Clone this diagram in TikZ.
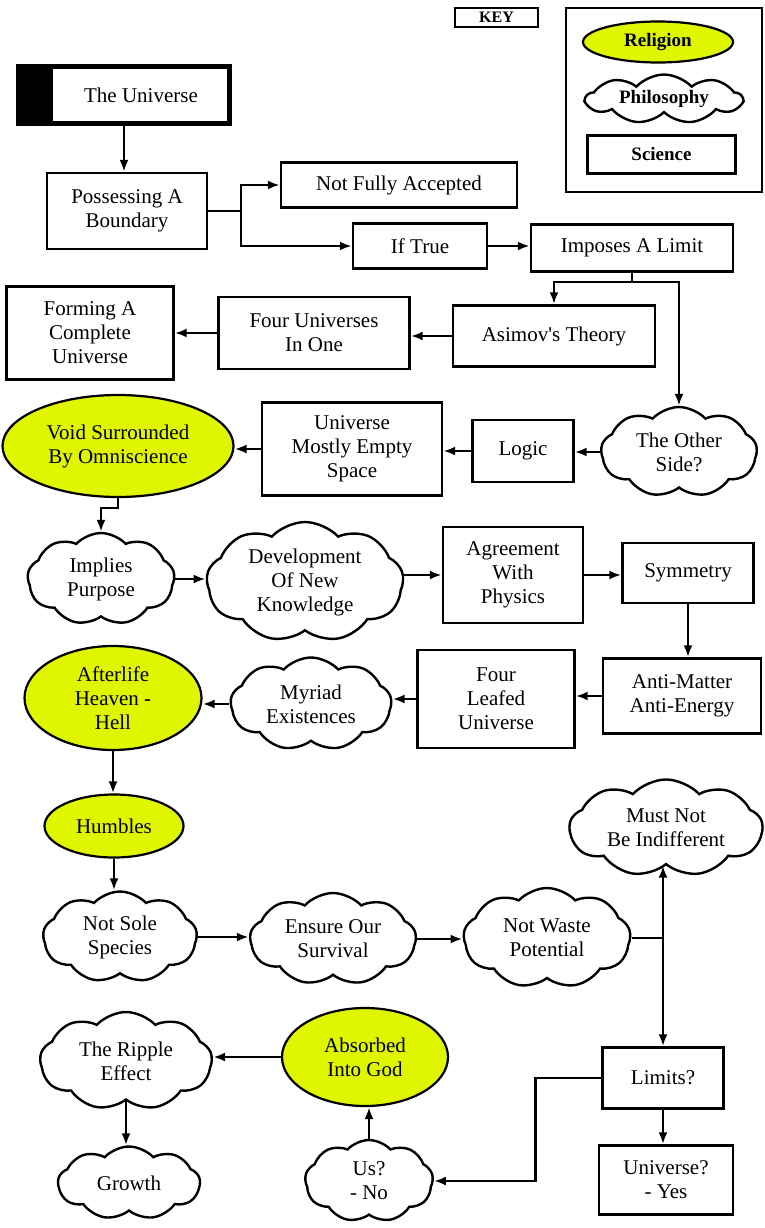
\documentclass[tikz,border=0pt]{standalone}
\usepackage{fontspec}
\setmainfont{Liberation Serif}
\usetikzlibrary{shapes.geometric,shapes.symbols,arrows.meta}
\definecolor{religion}{RGB}{224,245,0}

\begin{document}
\begin{tikzpicture}[x=1pt,y=-1pt,
		every node/.style={font=\fontsize{21}{24}\selectfont,align=center},
		sci/.style={draw,line width=2.4pt,rectangle,inner sep=1pt},
		rel/.style={draw,line width=2.2pt,ellipse,fill=religion,inner sep=0pt},
		phil/.style={draw,line width=2.4pt,cloud,cloud puffs=9,cloud puff arc=95,cloud ignores aspect,inner sep=0pt},
		keyfont/.style={font=\bfseries\fontsize{19}{22}\selectfont},
		arr/.style={line width=2.4pt,-{Latex[length=12pt,width=9pt]}},
		ln/.style={line width=2.4pt}]
		\useasboundingbox (0,0) rectangle (764,1228);

		\node[sci,line width=1.4pt,minimum width=83,minimum height=19,inner sep=0pt,font=\bfseries\fontsize{16}{18}\selectfont] (keylbl) at (496.5,17.5) {KEY};
		\draw[line width=1.4pt] (566,8) rectangle (762,192);
		\node[rel,keyfont,minimum width=150,minimum height=41] (krel) at (658,42) {Religion};
		\node[phil,keyfont,minimum width=156,minimum height=49] (kphil) at (664,99) {Philosophy};
		\node[sci,keyfont,minimum width=148,minimum height=38] (ksci) at (661.5,154.5) {Science};

		\node[draw,line width=5pt,minimum width=211,minimum height=57,
			path picture={\fill (path picture bounding box.north west) rectangle ([xshift=34pt]path picture bounding box.south west);}]
			(uni) at (124,95) {\hspace*{34pt}The Universe};
		\node[sci,minimum width=160,minimum height=76] (pos) at (127,211) {Possessing A\\Boundary};
		\node[sci,minimum width=236,minimum height=45] (nfa) at (399,185) {Not Fully Accepted};
		\node[sci,minimum width=134,minimum height=45] (ift) at (420,246) {If True};
		\node[sci,minimum width=202,minimum height=47] (imp) at (632,248) {Imposes A Limit};
		\node[sci,minimum width=202,minimum height=61] (asi) at (554,336) {Asimov\textquotesingle s Theory};
		\node[sci,minimum width=191,minimum height=72] (fou) at (314,333) {Four Universes\\In One};
		\node[sci,minimum width=167,minimum height=93] (frm) at (90,333) {Forming A\\Complete\\Universe};
		\node[phil,minimum width=156,minimum height=90] (oth) at (679,452) {The Other\\Side?};
		\node[sci,minimum width=101,minimum height=62] (lgc) at (523,451) {Logic};
		\node[sci,minimum width=180,minimum height=93] (emp) at (352,449) {Universe\\Mostly Empty\\Space};
		\node[rel,minimum width=231,minimum height=102] (void) at (118,446) {Void Surrounded\\By Omniscience};
		\node[phil,minimum width=147,minimum height=92] (ipl) at (101,579) {Implies\\Purpose};
		\node[phil,minimum width=197,minimum height=120] (dev) at (305,582) {Development\\Of New\\Knowledge};
		\node[sci,minimum width=140,minimum height=96] (agr) at (513,575) {Agreement\\With\\Physics};
		\node[sci,minimum width=131,minimum height=60] (sym) at (688,573) {Symmetry};
		\node[sci,minimum width=158,minimum height=75] (anti) at (682,696) {Anti-Matter\\Anti-Energy};
		\node[sci,minimum width=157,minimum height=98] (flu) at (496,699) {Four\\Leafed\\Universe};
		\node[phil,minimum width=161,minimum height=93] (myr) at (311,704) {Myriad\\Existences};
		\node[rel,minimum width=177,minimum height=104] (aft) at (113,698) {Afterlife\\Heaven -\\Hell};
		\node[rel,minimum width=139,minimum height=63] (hum) at (114,826) {Humbles};
		\node[phil,minimum width=154,minimum height=91] (nss) at (120,937) {Not Sole\\Species};
		\node[phil,minimum width=166,minimum height=92] (eos) at (333,939) {Ensure Our\\Survival};
		\node[phil,minimum width=167,minimum height=100] (nwp) at (547,938) {Not Waste\\Potential};
		\node[phil,minimum width=193,minimum height=97] (mni) at (666,828) {Must Not\\Be Indifferent};
		\node[sci,minimum width=121,minimum height=61] (lim) at (663,1078) {Limits?};
		\node[sci,minimum width=134,minimum height=69] (uvy) at (666,1180) {Universe?\\- Yes};
		\node[phil,minimum width=128,minimum height=82] (us) at (369,1181) {Us?\\- No};
		\node[rel,minimum width=166,minimum height=98] (abs) at (365,1057) {Absorbed\\Into God};
		\node[phil,minimum width=172,minimum height=98] (rip) at (126,1061) {The Ripple\\Effect};
		\node[phil,minimum width=142,minimum height=73] (gro) at (129,1183) {Growth};

		\draw[arr] (uni.south) -- (uni.south |- pos.north);
		\draw[arr] (pos.east) -- ++(33,0) |- (nfa.west);
		\draw[arr] (pos.east) -- ++(33,0) |- (ift.west);
		\draw[arr] (ift.east) -- (ift.east -| imp.west);
		\draw[ln] (imp.south) -- ++(0,9) coordinate (fork);
		\draw[arr] (fork) -| (asi.north);
		\draw[arr] (fork) -| (oth.north);
		\draw[arr] (asi.west) -- (asi.west -| fou.east);
		\draw[arr] (fou.west) -- (fou.west -| frm.east);
		\draw[arr] (oth.west) -- (oth.west -| lgc.east);
		\draw[arr] (lgc.west) -- (lgc.west -| emp.east);
		\draw[arr] (emp.west) -- (emp.west -| void.east);
		\draw[arr] (void.south) -- ++(0,10) -| (ipl.north);
		\draw[arr] (ipl.east) -- (ipl.east -| dev.west);
		\draw[arr] (agr.west -| dev.east) -- (agr.west);
		\draw[arr] (agr.east) -- (agr.east -| sym.west);
		\draw[arr] (sym.south) -- (sym.south |- anti.north);
		\draw[arr] (anti.west) -- (anti.west -| flu.east);
		\draw[arr] (flu.west) -- (flu.west -| myr.east);
		\draw[arr] (myr.west) -- (myr.west -| aft.east);
		\draw[arr] (aft.south) -- (aft.south |- hum.north);
		\draw[arr] (hum.south) -- (hum.south |- nss.north);
		\draw[arr] (nss.east) -- (nss.east -| eos.west);
		\draw[arr] (eos.east) -- (eos.east -| nwp.west);
		\coordinate (split) at (nwp.east -| lim.north);
		\draw[ln] (nwp.east) -- (split);
		\draw[arr] (split) -- (split |- mni.south);
		\draw[arr] (split) -- (lim.north);
		\draw[arr] (lim.south) -- (lim.south |- uvy.north);
		\draw[arr] (lim.west) -- ++(-66,0) |- (us.east);
		\draw[arr] (us.north) -- (us.north |- abs.south);
		\draw[arr] (abs.west) -- (abs.west -| rip.east);
		\draw[arr] (rip.south) -- (rip.south |- gro.north);
	\end{tikzpicture}
\end{document}
